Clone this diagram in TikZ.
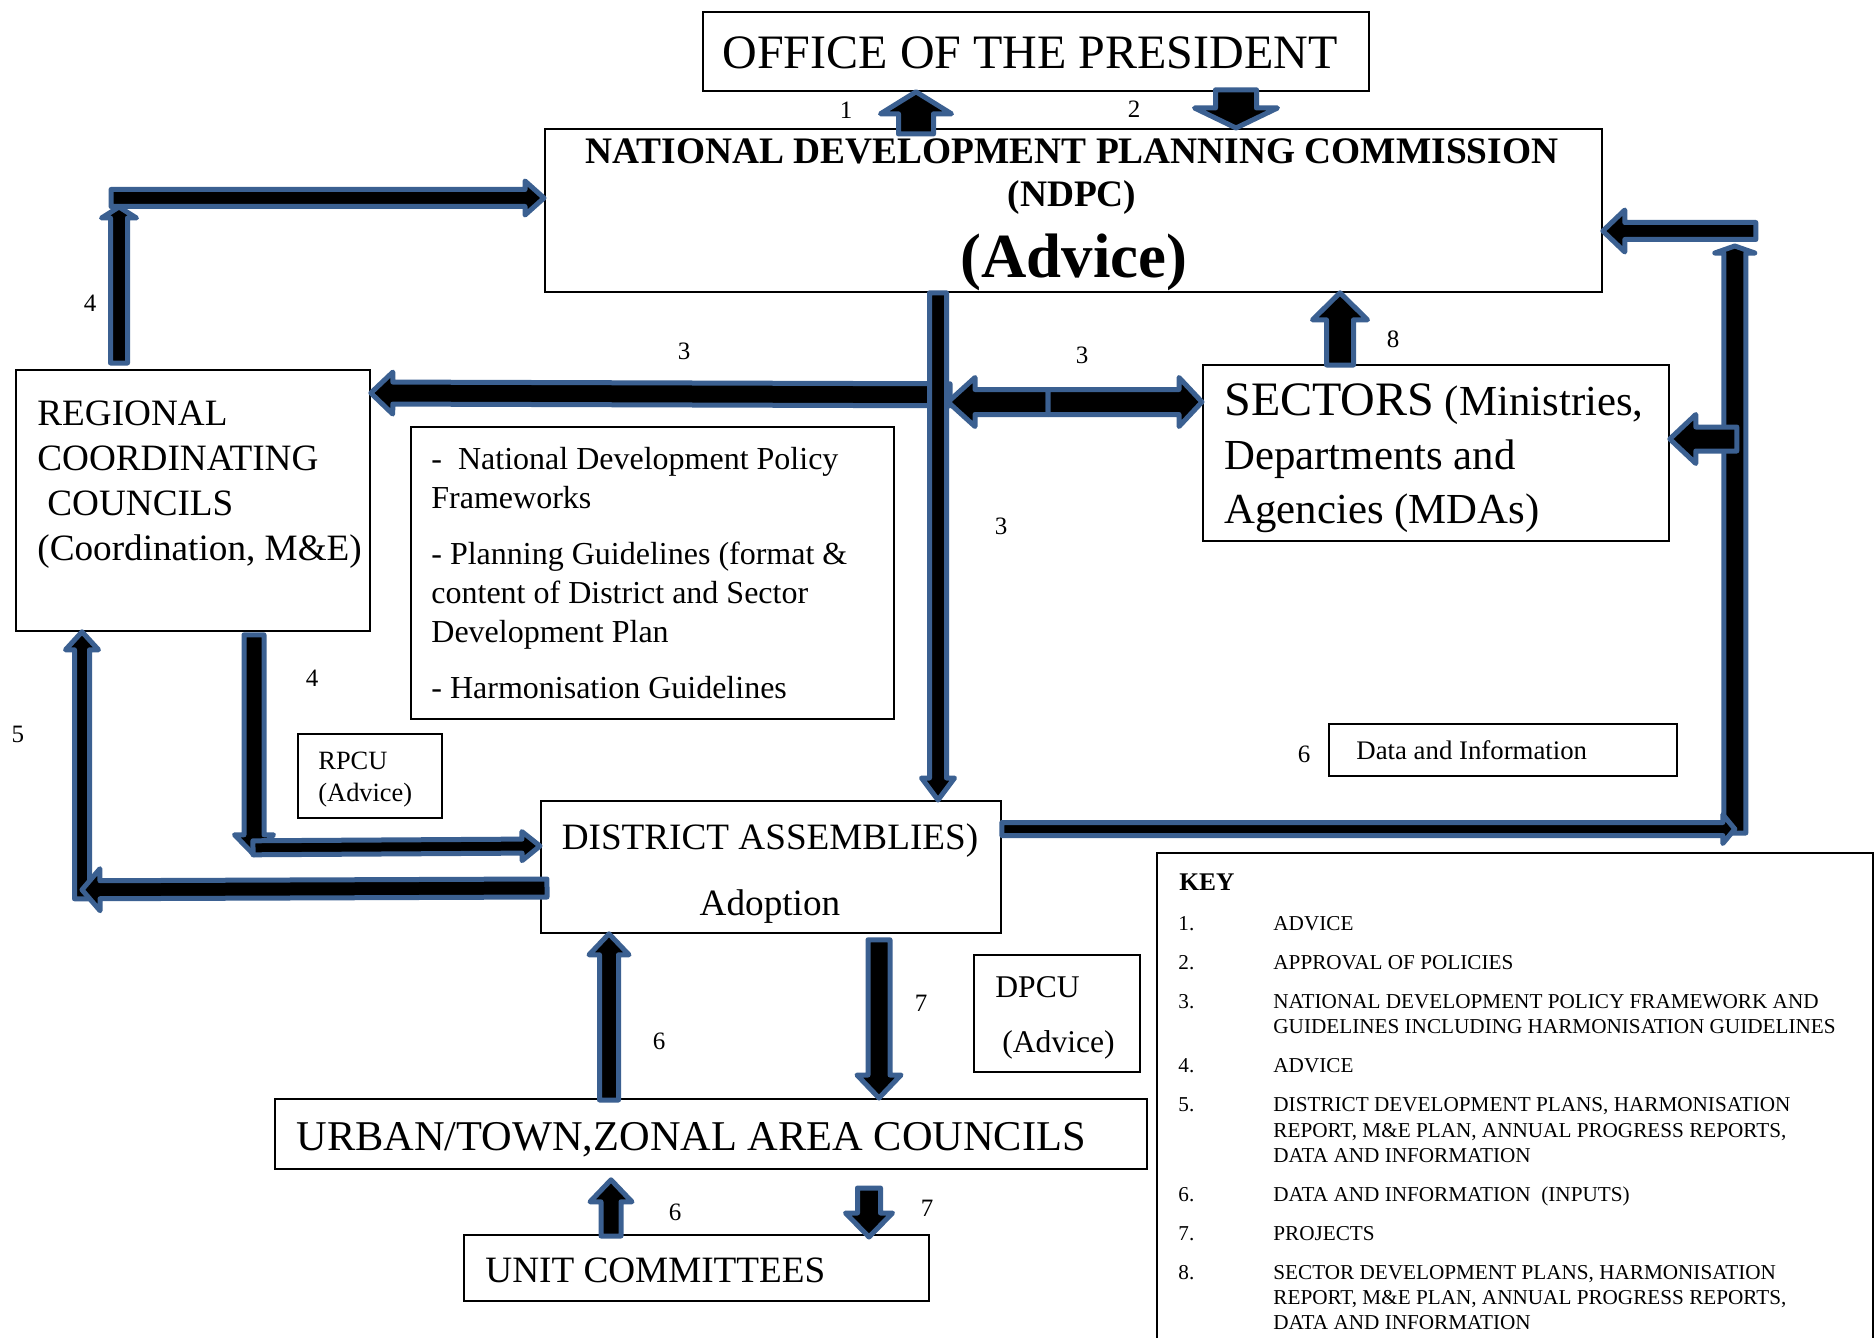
\documentclass[tikz,border=0pt]{standalone}
\usepackage{fontspec}
\setmainfont{Liberation Serif}
\usetikzlibrary{calc}
\definecolor{abl}{RGB}{59,96,145}
\newcommand\fsz[2]{\fontsize{#1}{#2}\selectfont}
\tikzset{
  box/.style={draw=black, line width=0.9pt, inner sep=0pt, anchor=north west},
  barrow/.style={draw=abl, fill=black, line width=2.5pt, line join=round},
  lbl/.style={font=\fsz{12.5}{15}, inner sep=0pt},
}
% block arrow: start, tip, shaft outer width, head outer width, head length (px)
\newcommand\blockarrow[5]{%
  \draw[barrow] let \p1=#1, \p2=#2,
    \n1={veclen(\x2-\x1,\y2-\y1)},
    \n2={(\x2-\x1)/\n1}, \n3={(\y2-\y1)/\n1},
    \n4={(#3/2-2.5)*0.5}, \n5={(#4/2-2.5)*0.5}, \n6={(#5)*0.5}
  in ({\x1-\n4*\n3},{\y1+\n4*\n2})
  -- ({\x2-\n6*\n2-\n4*\n3},{\y2-\n6*\n3+\n4*\n2})
  -- ({\x2-\n6*\n2-\n5*\n3},{\y2-\n6*\n3+\n5*\n2})
  -- (\p2)
  -- ({\x2-\n6*\n2+\n5*\n3},{\y2-\n6*\n3-\n5*\n2})
  -- ({\x2-\n6*\n2+\n4*\n3},{\y2-\n6*\n3-\n4*\n2})
  -- ({\x1+\n4*\n3},{\y1-\n4*\n2}) -- cycle;}
\begin{document}
\begin{tikzpicture}[x=0.5pt,y=-0.5pt, every node/.style={inner sep=0pt}]
\useasboundingbox (0,0) rectangle (1876,1338);
\clip (0,0) rectangle (1876,1338);
\fill[white] (0,0) rectangle (1876,1338);

% boxes
\node[box, minimum width=333pt, minimum height=39.5pt] (office) at (702,11) {};
\node[box, minimum width=528.5pt, minimum height=81.5pt] (ndpc) at (544,128) {};
\node[box, minimum width=177pt, minimum height=130.5pt] (rcc) at (15,369) {};
\node[box, minimum width=241.5pt, minimum height=146pt] (guide) at (410,426) {};
\node[box, minimum width=233pt, minimum height=88pt] (sectors) at (1202,364) {};
\node[box, minimum width=72pt, minimum height=42pt] (rpcu) at (297,733) {};
\node[box, minimum width=230pt, minimum height=66pt] (district) at (540,800) {};
\node[box, minimum width=174pt, minimum height=26pt] (data) at (1328,723) {};
\node[box, minimum width=83pt, minimum height=58.5pt] (dpcu) at (973,954) {};
\node[box, minimum width=436pt, minimum height=35pt] (urban) at (274,1098) {};
\node[box, minimum width=232.5pt, minimum height=33pt] (unit) at (463,1234) {};
\node[box, minimum width=358pt, minimum height=250pt] (key) at (1156,852) {};

% junction coordinates
\coordinate (c4) at ($(rcc.north west)+(104,-171)$);
\coordinate (c3) at ($(ndpc.south west)+(394,0)$);
\coordinate (c3m) at ($(sectors.north west)+(-154,38)$);
\coordinate (r1) at ($(district.north east)+(733,29)$);

% arrows
\blockarrow{($(ndpc.north west)+(372,6)$)}{($(office.south west)+(214,0)$)}{40}{76}{22}
\blockarrow{($(office.south west)+(534,-2)$)}{($(ndpc.north west)+(692,0)$)}{46}{88}{20}
\blockarrow{($(rcc.north west)+(104,-6)$)}{($(c4)+(0,9)$)}{22}{40}{11}
\blockarrow{($(c4)+(-8,0)$)}{(c4 -| ndpc.west)}{22}{39}{19}
\blockarrow{($(c3)+(12,102)$)}{($(rcc.north east)+(0,24)$)}{27}{47}{22}
\blockarrow{(c3)}{(c3 |- district.north)}{22}{38}{22}
\blockarrow{(c3m)}{($(c3m)+(-100,0)$)}{30}{54}{27}
\blockarrow{(c3m)}{(c3m -| sectors.west)}{30}{54}{23}
\blockarrow{($(sectors.north west)+(138,1)$)}{($(ndpc.south west)+(796,0)$)}{32}{60}{27}
\blockarrow{($(r1)+(0,4)$)}{($(r1)+(0,-583)$)}{27}{45}{7}
\blockarrow{(r1 -| district.east)}{(r1)}{18}{34}{12}
\blockarrow{($(r1)+(21,-598)$)}{($(ndpc.north east)+(0,103)$)}{22}{47}{22}
\blockarrow{($(r1)+(2,-390)$)}{($(sectors.north east)+(0,75)$)}{29}{54}{26}
\blockarrow{($(rcc.south west)+(239,3)$)}{($(rcc.south west)+(239,223)$)}{25}{44}{20}
\blockarrow{($(rcc.south west)+(238,216)$)}{($(district.north west)+(0,46)$)}{19}{34}{18}
\blockarrow{($(rcc.south west)+(67,267)$)}{($(rcc.south west)+(67,0)$)}{20}{38}{18}
\blockarrow{($(district.north west)+(7,88)$)}{($(rcc.south west)+(67,258)$)}{23}{47}{18}
\blockarrow{($(urban.north west)+(335,2)$)}{($(district.south west)+(69,0)$)}{24}{45}{21}
\blockarrow{($(district.south west)+(339,6)$)}{($(urban.north west)+(605,0)$)}{27}{49}{23}
\blockarrow{($(unit.north west)+(148,2)$)}{($(urban.south west)+(337,10)$)}{25}{47}{22}
\blockarrow{($(unit.north west)+(406,-46)$)}{($(unit.north west)+(406,3)$)}{28}{52}{24}

% texts
\node[anchor=base, font=\fsz{24}{28}] (officeT) at (1030,69) {OFFICE OF THE PRESIDENT};
\node[anchor=base, font=\fsz{18.7}{22}\bfseries] (ndpcT1) at (1072,163) {NATIONAL DEVELOPMENT PLANNING COMMISSION};
\node[anchor=base, font=\fsz{18.7}{22}\bfseries] (ndpcT2) at (1072,206) {(NDPC)};
\node[anchor=base, font=\fsz{31.4}{36}\bfseries] (ndpcT3) at (1074,278) {(Advice)};
\node[anchor=north west, align=left, font=\fsz{18.6}{22.5}] (rccT) at (37,400)
  {REGIONAL\\COORDINATING\\\hspace*{5pt}COUNCILS\\(Coordination, M\&E)};
\node[anchor=north west, align=left, font=\fsz{16}{19.5}] (guideT) at (431,447)
  {-\ \ National Development Policy\\Frameworks\\[8.5pt]- Planning Guidelines (format \&\\content of District and Sector\\Development Plan\\[8.5pt]- Harmonisation Guidelines};
\node[anchor=north west, align=left, font=\fsz{21.4}{27}] (sectorsT) at (1224,383)
  {{\fsz{24}{27}SECTORS} (Ministries,\\Departments and\\Agencies (MDAs)};
\node[anchor=north west, align=left, font=\fsz{13.2}{16}] (rpcuT) at (318,752) {RPCU\\(Advice)};
\node[anchor=north, align=center, font=\fsz{18.6}{33.3}] (districtT) at (770,823) {DISTRICT ASSEMBLIES)\\Adoption};
\node[anchor=base west, font=\fsz{13.4}{16}] (dataT) at (1356,759) {Data and Information};
\node[anchor=north west, align=left, font=\fsz{15.8}{27.5}] (dpcuT) at (995,976) {DPCU\\\hspace*{3.5pt}(Advice)};
\node[anchor=base west, font=\fsz{21.2}{25}] (urbanT) at (296,1150) {URBAN/TOWN,ZONAL AREA COUNCILS};
\node[anchor=base west, font=\fsz{18.6}{22}] (unitT) at (485,1282) {UNIT COMMITTEES};
\node[anchor=base west, font=\fsz{12.7}{15}\bfseries] (keyT) at (1179,890) {KEY};
\node[anchor=north west, align=left, font=\fsz{10.6}{12.65}] (keyItems) at (1178,916)
  {\makebox[47.5pt][l]{1.}ADVICE\\[6.85pt]
   \makebox[47.5pt][l]{2.}APPROVAL OF POLICIES\\[6.85pt]
   \makebox[47.5pt][l]{3.}NATIONAL DEVELOPMENT POLICY FRAMEWORK AND\\
   \hspace*{47.5pt}GUIDELINES INCLUDING HARMONISATION GUIDELINES\\[6.85pt]
   \makebox[47.5pt][l]{4.}ADVICE\\[6.85pt]
   \makebox[47.5pt][l]{5.}DISTRICT DEVELOPMENT PLANS, HARMONISATION\\
   \hspace*{47.5pt}REPORT, M\&E PLAN, ANNUAL PROGRESS REPORTS,\\
   \hspace*{47.5pt}DATA AND INFORMATION\\[6.85pt]
   \makebox[47.5pt][l]{6.}DATA AND INFORMATION\ \ (INPUTS)\\[6.85pt]
   \makebox[47.5pt][l]{7.}PROJECTS\\[6.85pt]
   \makebox[47.5pt][l]{8.}SECTOR DEVELOPMENT PLANS, HARMONISATION\\
   \hspace*{47.5pt}REPORT, M\&E PLAN, ANNUAL PROGRESS REPORTS,\\
   \hspace*{47.5pt}DATA AND INFORMATION};

% number labels
\node[lbl] (l1) at (846,110) {1};
\node[lbl] (l2) at (1134,109) {2};
\node[lbl] (l4a) at (90,303) {4};
\node[lbl] (l3a) at (684,351) {3};
\node[lbl] (l3b) at (1082,355) {3};
\node[lbl] (l8) at (1393,339) {8};
\node[lbl] (l3c) at (1001,526) {3};
\node[lbl] (l4b) at (312,678) {4};
\node[lbl] (l5) at (18,734) {5};
\node[lbl] (l6a) at (1304,754) {6};
\node[lbl] (l7a) at (921,1003) {7};
\node[lbl] (l6b) at (659,1041) {6};
\node[lbl] (l6c) at (675,1212) {6};
\node[lbl] (l7b) at (927,1208) {7};
\end{tikzpicture}
\end{document}
